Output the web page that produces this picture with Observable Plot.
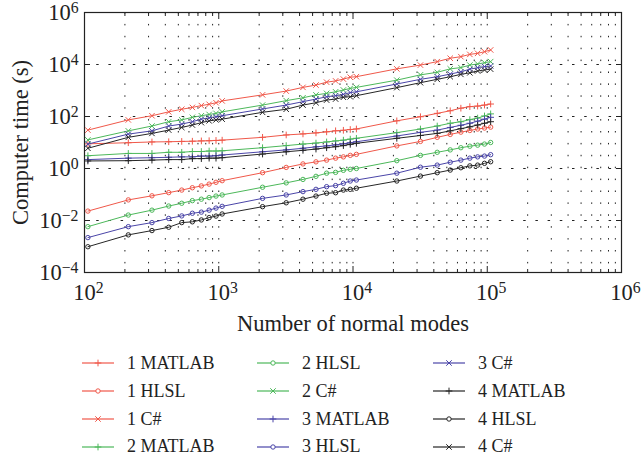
<!DOCTYPE html>
<html><head><meta charset="utf-8">
<script src="https://cdn.jsdelivr.net/npm/d3@7"></script>
<script src="https://cdn.jsdelivr.net/npm/@observablehq/plot@0.6"></script>
<style>
body{margin:0;background:#fff;font-family:"Liberation Serif",serif;}
#chart{position:relative;width:643px;height:459px;}
.legend{position:absolute;left:0;top:340px;width:643px;height:119px;}
.item{position:absolute;display:flex;align-items:center;height:28px;font-size:18px;color:#222;white-space:nowrap;}
.item svg{margin-right:13px;}
</style></head><body><div id="chart"></div><script>
// Number of normal modes (x)
const modes = [106,212,318,424,530,636,742,848,954,1060,2120,3180,4240,5300,6360,7420,8480,9540,10600,21200,31800,42400,53000,63600,74200,84800,95400,106000];

// Computer time (s)
const matlab1 = [8.9,9.8,10.5,10.7,11,11.2,11.5,11.7,12,12.3,15.8,19.5,21.4,23.4,25.7,28.2,29.5,31.6,33.1,68,98,132,166,209,240,251,275,302];
const hlsl1 = [0.023,0.062,0.089,0.118,0.148,0.182,0.214,0.251,0.295,0.34,0.69,1.1,1.5,1.8,2.1,2.5,2.8,3.2,3.5,7.4,11,15.8,20.4,25,29,33,36,39];
const cs1 = [30,74,107,151,190,224,263,295,339,398,680,950,1320,1620,2090,2340,2750,3240,3400,6800,9500,12900,17400,20000,24500,26900,31000,36300];
const matlab2 = [3.1,3.8,3.8,4.2,4.2,4.5,4.5,4.7,4.7,4.8,6.3,7.6,8.7,9.5,10.5,11.5,12.3,13.5,14.5,24,33,43,55,63,76,87,105,126];
const hlsl2 = [0.0058,0.0162,0.025,0.036,0.046,0.058,0.066,0.076,0.087,0.096,0.19,0.28,0.38,0.50,0.66,0.71,0.85,0.93,1.0,2.0,3.2,4.2,5.2,6.3,7.2,7.9,8.7,10];
const cs2 = [12.6,28,43,63,74,93,107,120,132,151,275,407,525,676,776,891,1047,1202,1318,2500,4000,5000,6800,7600,9500,10500,11700,12900];
const matlab3 = [2.2,2.5,2.6,2.7,2.8,2.8,3.0,3.0,3.1,3.3,4.4,5.2,6.0,6.8,7.4,8.1,8.9,9.8,10.7,17.8,24.5,30,38,46,55,66,79,93];
const hlsl3 = [0.0022,0.0058,0.0083,0.012,0.015,0.019,0.021,0.025,0.030,0.035,0.071,0.096,0.129,0.158,0.2,0.22,0.27,0.33,0.36,0.66,1.12,1.35,1.74,2.1,2.5,2.8,3.0,3.4];
const cs3 = [8.7,21,28,43,51,63,79,89,98,107,195,275,372,468,575,631,708,832,891,1780,2690,3390,4270,5250,6610,7590,8320,8710];
const matlab4 = [1.95,2.0,2.1,2.2,2.2,2.4,2.4,2.5,2.5,2.6,3.6,4.4,5.0,5.6,6.3,6.9,7.6,8.5,9.3,14.5,18.6,22.4,28,34,40,47,55,63];
const hlsl4 = [0.00098,0.0028,0.0041,0.0055,0.0083,0.0089,0.0105,0.0129,0.0148,0.0178,0.034,0.048,0.066,0.087,0.112,0.117,0.148,0.158,0.174,0.33,0.51,0.69,0.87,1.07,1.26,1.35,1.58,1.82];
const cs4 = [6.0,15.8,22.4,30,38,47,58,68,74,79,145,190,275,339,427,468,550,575,631,1290,2000,2690,3390,4170,4790,5620,6170,6610];

const seriesNames = ["1 MATLAB","1 HLSL","1 C#","2 MATLAB","2 HLSL","2 C#","3 MATLAB","3 HLSL","3 C#","4 MATLAB","4 HLSL","4 C#"];
const seriesValues = [matlab1,hlsl1,cs1,matlab2,hlsl2,cs2,matlab3,hlsl3,cs3,matlab4,hlsl4,cs4];
const groupColors = ["#f0584a","#4cb85a","#4a45a8","#262626"];
const methodSymbols = ["plus","circle","times"];
const symbolR = {plus:2.3, circle:2.2, times:2.6};

const xMajor = [1e2,1e3,1e4,1e5,1e6];
const yMajor = [1e-4,1e-2,1,1e2,1e4,1e6];
const xMinor = [];
for (let e = 2; e < 6; e++) for (let k = 2; k <= 9; k++) xMinor.push(k * 10 ** e);

const series = seriesNames.map((name, i) => ({
  name,
  color: groupColors[Math.floor(i / 3)],
  symbol: methodSymbols[i % 3],
  data: seriesValues[i].map((v, j) => ({x: modes[j], y: v}))
}));

const powFmt = d => "10^" + Math.round(Math.log10(d));
const ink = "#222";

const marks = [
  Plot.ruleX(xMinor.concat([1e3,1e4,1e5]), {stroke: ink, strokeWidth: 1, strokeDasharray: "1.5,10.4"}),
  Plot.ruleY([1e-2,1,1e2,1e4], {stroke: ink, strokeWidth: 1, strokeDasharray: "2.5,9.7"})
];
for (const s of series) {
  marks.push(Plot.line(s.data, {x: "x", y: "y", stroke: s.color, strokeWidth: 1}));
  marks.push(Plot.dot(s.data, {x: "x", y: "y", stroke: s.color, symbol: s.symbol, r: symbolR[s.symbol], strokeWidth: 1, fill: "none"}));
}
marks.push(
  Plot.frame({stroke: ink, strokeWidth: 1.2}),
  Plot.axisX({anchor: "bottom", ticks: xMinor, tickSize: -3, tickFormat: () => "", stroke: ink, label: null}),
  Plot.axisX({anchor: "bottom", ticks: xMajor, tickSize: -6, tickFormat: () => "", stroke: ink, label: null}),
  Plot.axisX({anchor: "top", ticks: xMinor, tickSize: -3, tickFormat: () => "", stroke: ink, label: null}),
  Plot.axisX({anchor: "top", ticks: xMajor, tickSize: -6, tickFormat: () => "", stroke: ink, label: null}),
  Plot.axisY({anchor: "left", ticks: yMajor, tickSize: -6, tickFormat: () => "", stroke: ink, label: null}),
  Plot.axisY({anchor: "right", ticks: yMajor, tickSize: -6, tickFormat: () => "", stroke: ink, label: null}),
  Plot.axisX({anchor: "bottom", ticks: xMajor, tickSize: 0, tickPadding: 12, tickFormat: powFmt, fontSize: 22.5, dx: 4,
    label: "Number of normal modes", labelAnchor: "center", labelOffset: 58, labelArrow: "none"}),
  Plot.axisY({anchor: "left", ticks: yMajor, tickSize: 0, tickPadding: 6, tickFormat: powFmt, fontSize: 22.5,
    label: "Computer time (s)", labelAnchor: "center", labelOffset: 72, labelArrow: "none"})
);

const chart = Plot.plot({
  width: 643,
  height: 340,
  marginLeft: 84,
  marginRight: 22,
  marginTop: 12,
  marginBottom: 68,
  style: {fontFamily: "'Liberation Serif', serif", fontSize: "21.5px", color: ink, background: "#fff"},
  x: {type: "log", domain: [1e2, 1e6], label: null},
  y: {type: "log", domain: [1e-4, 1e6], label: null},
  marks
});

// superscript exponents
const NS = "http://www.w3.org/2000/svg";
chart.querySelectorAll("text").forEach(t => {
  const m = /^10\^(-?\d+)$/.exec(t.textContent);
  if (m) {
    t.textContent = "10";
    const sup = document.createElementNS(NS, "tspan");
    sup.setAttribute("dy", "-0.45em");
    sup.setAttribute("font-size", "0.7em");
    sup.textContent = m[1].replace("-", "\u2212");
    t.appendChild(sup);
  }
});
const root = document.getElementById("chart");
root.appendChild(chart);

// legend (column-major, 4 rows x 3 columns)
const legend = document.createElement("div");
legend.className = "legend";
const colX = [82, 257, 433];
const rowY = [23.3, 51.3, 79.3, 106.9];
series.forEach((s, i) => {
  const col = Math.floor(i / 4), row = i % 4;
  const item = document.createElement("div");
  item.className = "item";
  item.style.left = colX[col] + "px";
  item.style.top = (rowY[row] - 14) + "px";
  const sw = d3.create("svg").attr("width", 32).attr("height", 12);
  sw.append("line").attr("x1", 0).attr("x2", 32).attr("y1", 6).attr("y2", 6).attr("stroke", s.color).attr("stroke-width", 1.2);
  const symType = {plus: d3.symbolPlus, circle: d3.symbolCircle, times: d3.symbolTimes}[s.symbol];
  const r = symbolR[s.symbol];
  sw.append("path").attr("transform", "translate(16,6)").attr("d", d3.symbol(symType, r * r * Math.PI)())
    .attr("fill", "#fff").attr("stroke", s.color).attr("stroke-width", 1);
  item.appendChild(sw.node());
  const label = document.createElement("span");
  label.textContent = s.name;
  item.appendChild(label);
  legend.appendChild(item);
});
root.appendChild(legend);
</script></body></html>
